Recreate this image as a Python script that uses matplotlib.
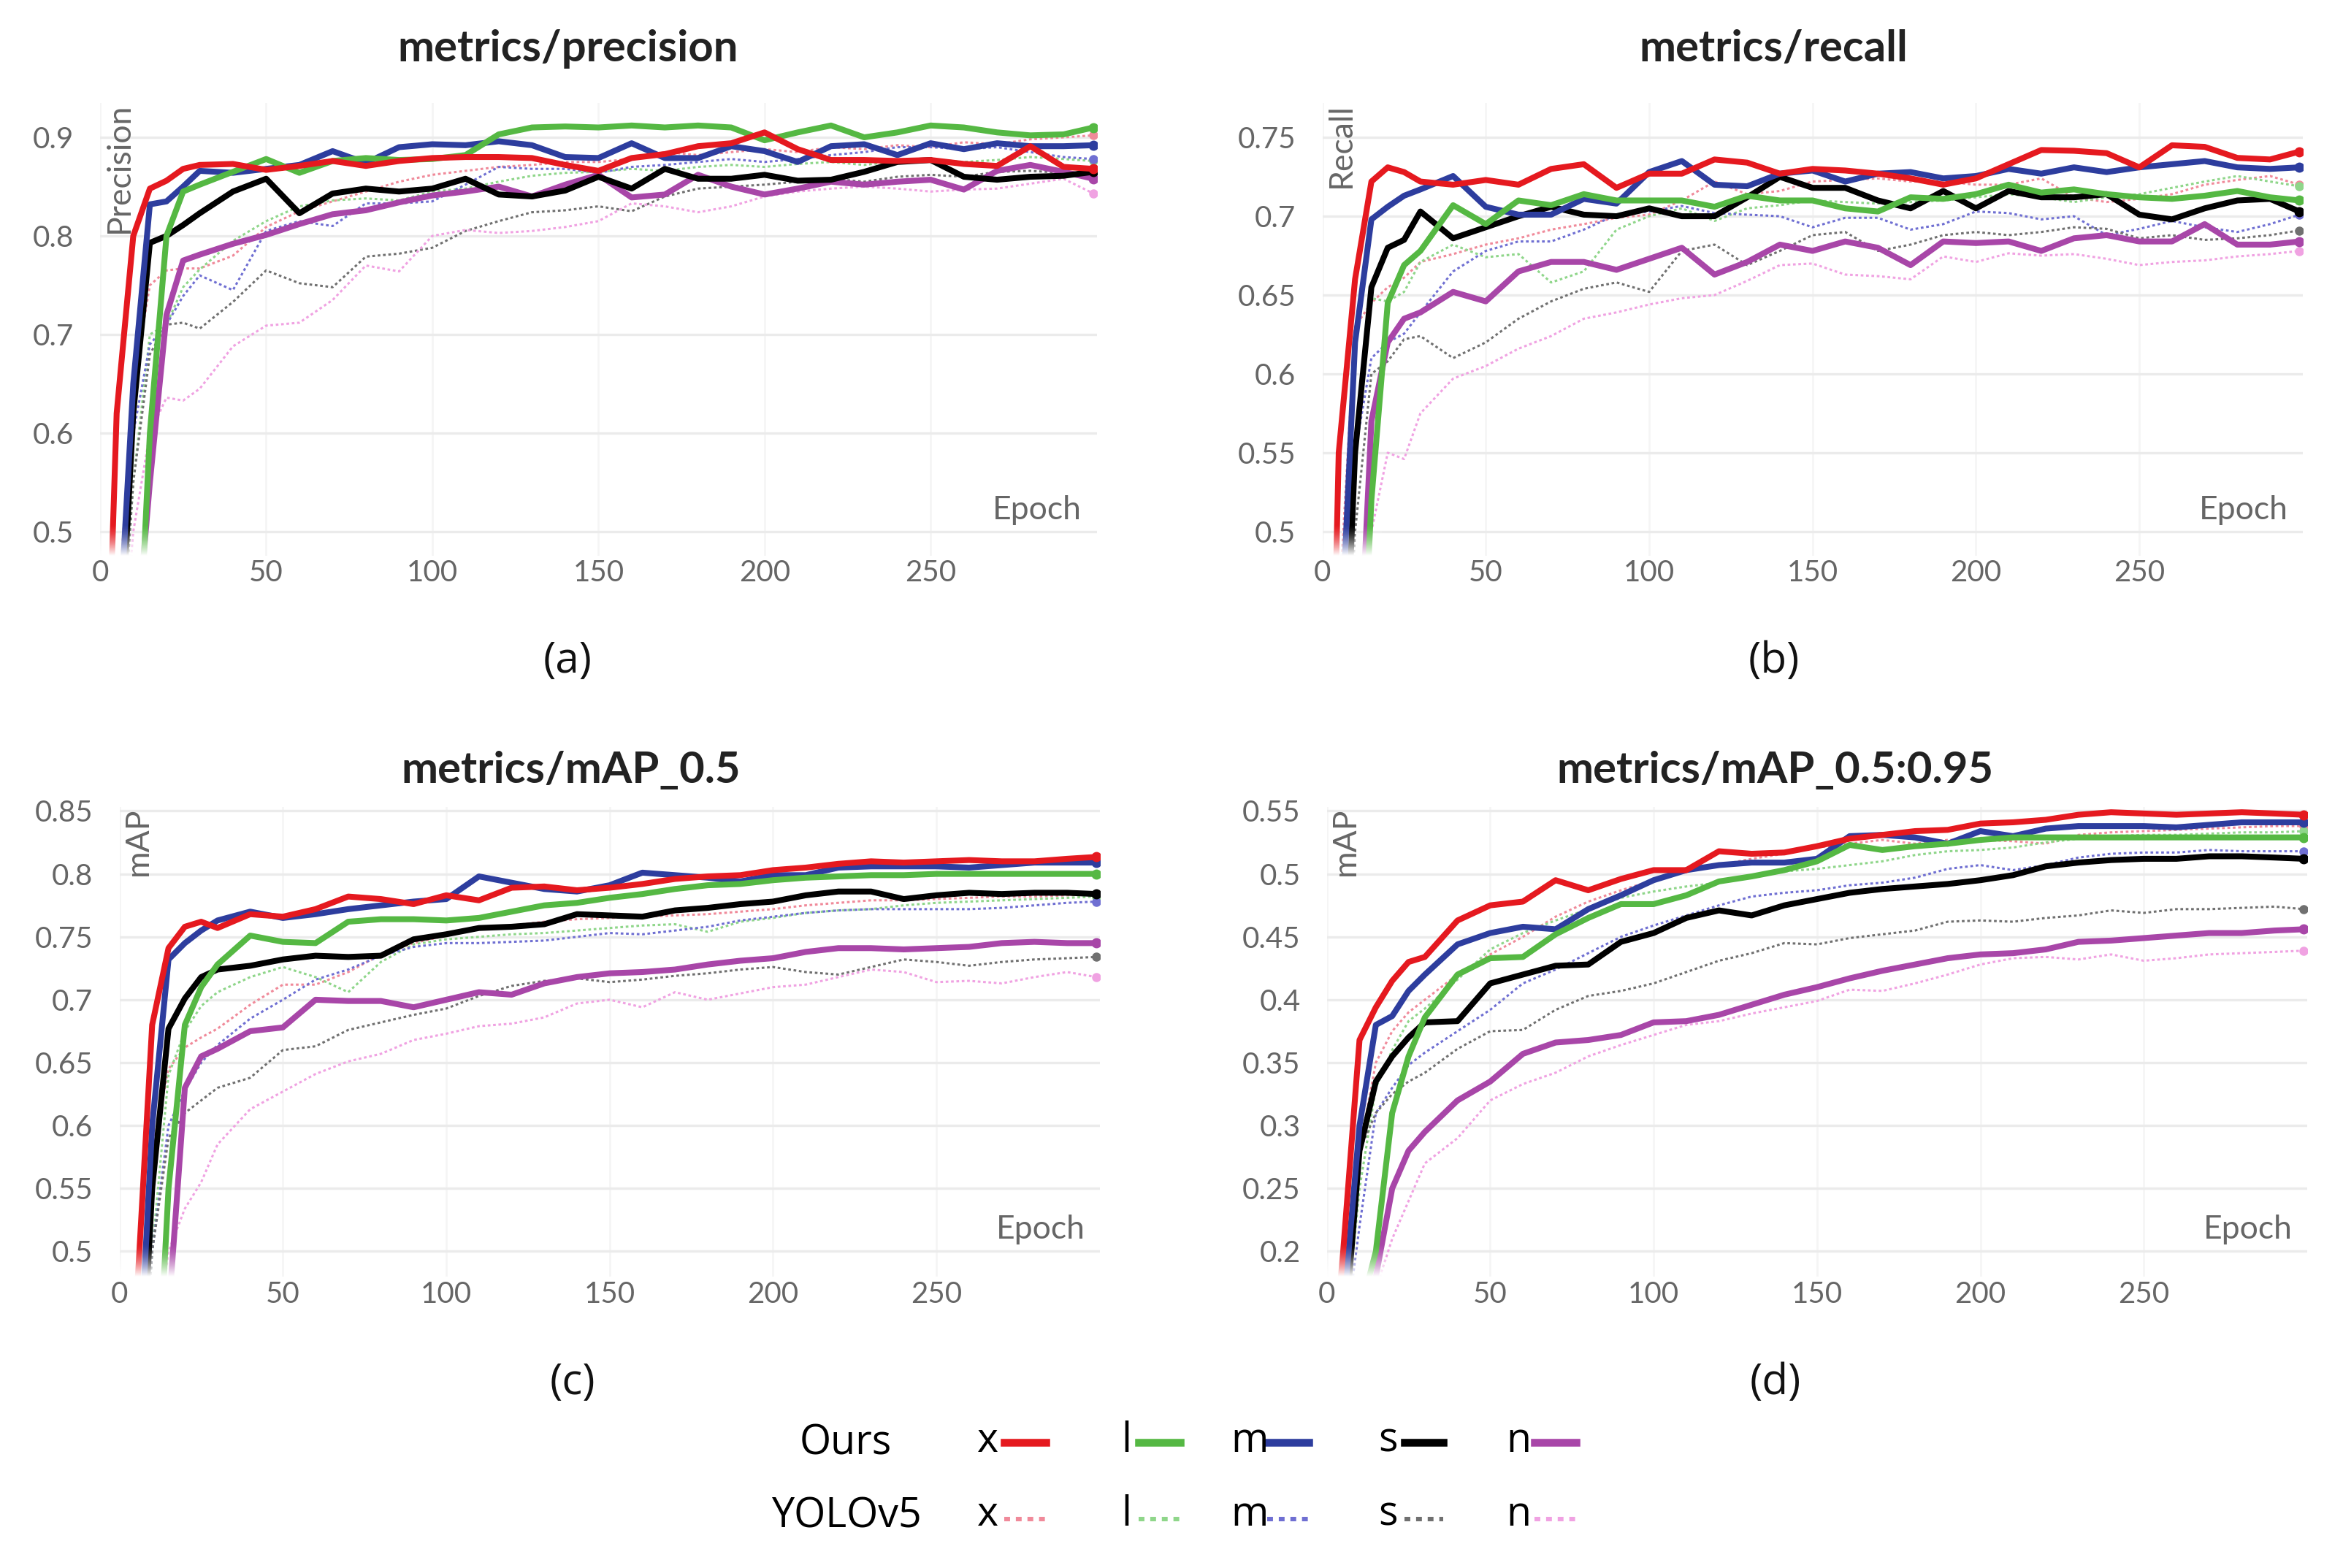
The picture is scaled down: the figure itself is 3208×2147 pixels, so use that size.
import numpy as np
import matplotlib.pyplot as plt
from matplotlib.lines import Line2D

plt.rcParams['font.family'] = ['Lato', 'DejaVu Sans']

epochs = [0, 5, 10, 15, 20, 25, 30, 40, 50, 60, 70, 80, 90, 100, 110, 120, 130, 140, 150,
          160, 170, 180, 190, 200, 210, 220, 230, 240, 250, 260, 270, 280, 290, 299]

# metrics/precision
prec_ours_x = [0.10, 0.62, 0.80, 0.848, 0.856, 0.868, 0.872, 0.873, 0.867, 0.871, 0.876, 0.871, 0.876, 0.879, 0.88, 0.88, 0.879, 0.872, 0.866,
               0.879, 0.883, 0.891, 0.894, 0.905, 0.888, 0.877, 0.877, 0.876, 0.877, 0.873, 0.871, 0.891, 0.870, 0.868]
prec_ours_l = [0.10, 0.15, 0.25, 0.60, 0.80, 0.845, 0.852, 0.865, 0.878, 0.864, 0.876, 0.879, 0.877, 0.878, 0.882, 0.903, 0.910, 0.911, 0.910,
               0.912, 0.910, 0.912, 0.910, 0.897, 0.905, 0.912, 0.900, 0.905, 0.912, 0.910, 0.905, 0.902, 0.903, 0.910]
prec_ours_m = [0.10, 0.35, 0.65, 0.832, 0.835, 0.850, 0.866, 0.864, 0.868, 0.872, 0.886, 0.874, 0.890, 0.893, 0.892, 0.896, 0.892, 0.880, 0.879,
               0.894, 0.879, 0.879, 0.891, 0.886, 0.875, 0.891, 0.893, 0.882, 0.894, 0.888, 0.894, 0.891, 0.891, 0.892]
prec_ours_s = [0.10, 0.30, 0.62, 0.793, 0.800, 0.811, 0.823, 0.845, 0.858, 0.823, 0.843, 0.848, 0.845, 0.848, 0.858, 0.842, 0.840, 0.846, 0.860,
               0.848, 0.868, 0.858, 0.858, 0.862, 0.856, 0.857, 0.865, 0.875, 0.877, 0.860, 0.857, 0.860, 0.861, 0.865]
prec_ours_n = [0.10, 0.20, 0.35, 0.55, 0.72, 0.775, 0.781, 0.792, 0.801, 0.812, 0.822, 0.826, 0.834, 0.841, 0.845, 0.850, 0.840, 0.852, 0.862,
               0.839, 0.842, 0.862, 0.850, 0.842, 0.848, 0.855, 0.852, 0.855, 0.857, 0.847, 0.866, 0.872, 0.865, 0.858]
prec_yolo_x = [0.10, 0.40, 0.65, 0.75, 0.765, 0.767, 0.767, 0.780, 0.809, 0.825, 0.835, 0.845, 0.855, 0.862, 0.866, 0.870, 0.872, 0.875, 0.875,
               0.878, 0.885, 0.882, 0.885, 0.888, 0.885, 0.890, 0.888, 0.892, 0.890, 0.895, 0.893, 0.898, 0.900, 0.902]
prec_yolo_l = [0.10, 0.30, 0.55, 0.70, 0.71, 0.748, 0.766, 0.795, 0.815, 0.830, 0.836, 0.838, 0.836, 0.845, 0.848, 0.855, 0.861, 0.864, 0.865,
               0.868, 0.866, 0.870, 0.872, 0.870, 0.873, 0.875, 0.872, 0.876, 0.878, 0.875, 0.877, 0.880, 0.878, 0.876]
prec_yolo_m = [0.10, 0.35, 0.60, 0.69, 0.71, 0.739, 0.760, 0.745, 0.805, 0.815, 0.810, 0.833, 0.833, 0.835, 0.852, 0.870, 0.868, 0.868, 0.864,
               0.870, 0.872, 0.875, 0.878, 0.875, 0.878, 0.882, 0.885, 0.890, 0.890, 0.888, 0.890, 0.885, 0.880, 0.878]
prec_yolo_s = [0.10, 0.30, 0.55, 0.68, 0.71, 0.712, 0.706, 0.733, 0.765, 0.752, 0.748, 0.779, 0.782, 0.788, 0.805, 0.815, 0.824, 0.826, 0.830,
               0.825, 0.840, 0.848, 0.850, 0.852, 0.855, 0.858, 0.855, 0.860, 0.862, 0.860, 0.865, 0.866, 0.864, 0.865]
prec_yolo_n = [0.10, 0.30, 0.50, 0.60, 0.636, 0.633, 0.645, 0.688, 0.709, 0.712, 0.735, 0.770, 0.764, 0.800, 0.806, 0.803, 0.805, 0.809, 0.815,
               0.833, 0.830, 0.824, 0.830, 0.840, 0.845, 0.848, 0.850, 0.848, 0.845, 0.847, 0.848, 0.853, 0.858, 0.843]

# metrics/recall
rec_ours_x = [0.10, 0.55, 0.66, 0.722, 0.731, 0.728, 0.722, 0.720, 0.723, 0.720, 0.730, 0.733, 0.718, 0.727, 0.727, 0.736, 0.734, 0.727, 0.730,
              0.729, 0.727, 0.724, 0.720, 0.724, 0.733, 0.742, 0.7415, 0.740, 0.731, 0.745, 0.744, 0.737, 0.736, 0.741]
rec_ours_l = [0.10, 0.15, 0.30, 0.52, 0.645, 0.669, 0.678, 0.707, 0.695, 0.710, 0.707, 0.714, 0.710, 0.710, 0.710, 0.706, 0.713, 0.710, 0.710,
              0.705, 0.703, 0.712, 0.711, 0.714, 0.720, 0.715, 0.717, 0.714, 0.712, 0.711, 0.713, 0.716, 0.712, 0.710]
rec_ours_m = [0.10, 0.40, 0.62, 0.698, 0.706, 0.713, 0.717, 0.7255, 0.706, 0.701, 0.701, 0.711, 0.708, 0.728, 0.735, 0.720, 0.719, 0.727, 0.729,
              0.722, 0.727, 0.728, 0.724, 0.7255, 0.730, 0.727, 0.731, 0.728, 0.731, 0.733, 0.735, 0.731, 0.730, 0.731]
rec_ours_s = [0.10, 0.30, 0.55, 0.655, 0.680, 0.685, 0.703, 0.686, 0.693, 0.700, 0.706, 0.701, 0.700, 0.705, 0.700, 0.700, 0.712, 0.725, 0.718,
              0.718, 0.710, 0.705, 0.716, 0.705, 0.716, 0.712, 0.712, 0.714, 0.701, 0.698, 0.705, 0.710, 0.711, 0.703]
rec_ours_n = [0.10, 0.20, 0.35, 0.57, 0.62, 0.635, 0.639, 0.652, 0.646, 0.665, 0.671, 0.671, 0.666, 0.673, 0.680, 0.663, 0.671, 0.682, 0.678,
              0.684, 0.680, 0.669, 0.684, 0.683, 0.684, 0.678, 0.686, 0.688, 0.684, 0.684, 0.695, 0.682, 0.682, 0.684]
rec_yolo_x = [0.10, 0.45, 0.63, 0.645, 0.655, 0.661, 0.671, 0.676, 0.682, 0.686, 0.6915, 0.695, 0.699, 0.701, 0.710, 0.722, 0.714, 0.716, 0.722,
              0.723, 0.724, 0.722, 0.722, 0.720, 0.720, 0.724, 0.712, 0.709, 0.711, 0.714, 0.720, 0.723, 0.7255, 0.720]
rec_yolo_l = [0.10, 0.30, 0.55, 0.648, 0.646, 0.652, 0.671, 0.682, 0.674, 0.676, 0.658, 0.665, 0.6915, 0.700, 0.705, 0.697, 0.705, 0.707, 0.710,
              0.709, 0.708, 0.709, 0.710, 0.712, 0.714, 0.712, 0.709, 0.712, 0.714, 0.718, 0.722, 0.7255, 0.722, 0.719]
rec_yolo_m = [0.10, 0.35, 0.55, 0.61, 0.62, 0.6255, 0.639, 0.665, 0.678, 0.684, 0.684, 0.6915, 0.701, 0.703, 0.7065, 0.702, 0.701, 0.700, 0.693,
              0.699, 0.699, 0.6915, 0.695, 0.703, 0.702, 0.698, 0.700, 0.688, 0.692, 0.697, 0.693, 0.690, 0.695, 0.701]
rec_yolo_s = [0.10, 0.30, 0.50, 0.60, 0.608, 0.622, 0.624, 0.610, 0.620, 0.635, 0.646, 0.654, 0.658, 0.652, 0.678, 0.682, 0.669, 0.678, 0.688,
              0.690, 0.678, 0.682, 0.688, 0.690, 0.688, 0.690, 0.693, 0.692, 0.686, 0.688, 0.685, 0.686, 0.688, 0.691]
rec_yolo_n = [0.10, 0.20, 0.35, 0.50, 0.55, 0.546, 0.575, 0.597, 0.605, 0.616, 0.624, 0.635, 0.639, 0.644, 0.648, 0.650, 0.659, 0.669, 0.670,
              0.663, 0.662, 0.660, 0.6745, 0.671, 0.6765, 0.675, 0.676, 0.673, 0.669, 0.671, 0.672, 0.6745, 0.676, 0.678]

# metrics/mAP_0.5
map50_ours_x = [0.10, 0.45, 0.68, 0.741, 0.758, 0.762, 0.757, 0.768, 0.766, 0.772, 0.782, 0.780, 0.776, 0.783, 0.779, 0.789, 0.790, 0.787, 0.789,
                0.792, 0.796, 0.798, 0.799, 0.803, 0.805, 0.808, 0.810, 0.809, 0.810, 0.811, 0.810, 0.810, 0.812, 0.8135]
map50_ours_l = [0.10, 0.15, 0.30, 0.55, 0.68, 0.710, 0.728, 0.751, 0.746, 0.745, 0.762, 0.764, 0.764, 0.763, 0.765, 0.770, 0.775, 0.777, 0.781,
                0.784, 0.788, 0.791, 0.792, 0.795, 0.797, 0.798, 0.799, 0.799, 0.800, 0.800, 0.800, 0.800, 0.800, 0.800]
map50_ours_m = [0.10, 0.35, 0.60, 0.732, 0.745, 0.755, 0.763, 0.770, 0.765, 0.768, 0.772, 0.775, 0.778, 0.780, 0.798, 0.793, 0.788, 0.786, 0.791,
                0.801, 0.799, 0.797, 0.794, 0.799, 0.799, 0.805, 0.806, 0.806, 0.806, 0.805, 0.807, 0.809, 0.809, 0.809]
map50_ours_s = [0.10, 0.30, 0.55, 0.677, 0.701, 0.718, 0.724, 0.727, 0.732, 0.735, 0.734, 0.735, 0.748, 0.752, 0.757, 0.758, 0.760, 0.768, 0.767,
                0.766, 0.771, 0.773, 0.776, 0.778, 0.783, 0.786, 0.786, 0.780, 0.783, 0.785, 0.784, 0.785, 0.785, 0.784]
map50_ours_n = [0.10, 0.20, 0.30, 0.45, 0.63, 0.655, 0.661, 0.675, 0.678, 0.700, 0.699, 0.699, 0.694, 0.700, 0.706, 0.704, 0.713, 0.718, 0.721,
                0.722, 0.724, 0.728, 0.731, 0.733, 0.738, 0.741, 0.741, 0.740, 0.741, 0.742, 0.745, 0.746, 0.745, 0.745]
map50_yolo_x = [0.10, 0.40, 0.58, 0.645, 0.662, 0.670, 0.677, 0.696, 0.712, 0.712, 0.722, 0.736, 0.745, 0.751, 0.756, 0.759, 0.762, 0.764, 0.765,
                0.766, 0.767, 0.768, 0.770, 0.772, 0.775, 0.777, 0.779, 0.779, 0.780, 0.781, 0.782, 0.782, 0.783, 0.783]
map50_yolo_l = [0.10, 0.30, 0.50, 0.64, 0.675, 0.695, 0.706, 0.718, 0.726, 0.718, 0.706, 0.730, 0.744, 0.748, 0.750, 0.752, 0.753, 0.755, 0.757,
                0.759, 0.760, 0.754, 0.762, 0.765, 0.769, 0.771, 0.772, 0.775, 0.777, 0.778, 0.779, 0.780, 0.781, 0.782]
map50_yolo_m = [0.10, 0.30, 0.50, 0.60, 0.628, 0.650, 0.664, 0.685, 0.700, 0.716, 0.724, 0.735, 0.742, 0.745, 0.745, 0.746, 0.747, 0.750, 0.753,
                0.752, 0.755, 0.758, 0.763, 0.766, 0.769, 0.771, 0.772, 0.772, 0.772, 0.772, 0.773, 0.775, 0.777, 0.778]
map50_yolo_s = [0.10, 0.30, 0.50, 0.59, 0.61, 0.62, 0.63, 0.638, 0.660, 0.663, 0.676, 0.682, 0.688, 0.693, 0.703, 0.711, 0.715, 0.717, 0.714,
                0.716, 0.719, 0.721, 0.724, 0.726, 0.722, 0.720, 0.726, 0.732, 0.730, 0.727, 0.730, 0.732, 0.733, 0.734]
map50_yolo_n = [0.10, 0.25, 0.40, 0.50, 0.534, 0.555, 0.585, 0.613, 0.627, 0.641, 0.651, 0.657, 0.668, 0.673, 0.679, 0.681, 0.686, 0.697, 0.700,
                0.694, 0.706, 0.700, 0.705, 0.710, 0.712, 0.718, 0.724, 0.722, 0.714, 0.715, 0.713, 0.718, 0.722, 0.718]

# metrics/mAP_0.5:0.95
map95_ours_x = [0.05, 0.20, 0.368, 0.394, 0.415, 0.430, 0.434, 0.463, 0.475, 0.478, 0.495, 0.487, 0.496, 0.503, 0.503, 0.518, 0.516, 0.517, 0.522,
                0.528, 0.531, 0.534, 0.535, 0.540, 0.541, 0.543, 0.547, 0.549, 0.548, 0.547, 0.548, 0.549, 0.548, 0.547]
map95_ours_l = [0.05, 0.10, 0.15, 0.20, 0.31, 0.355, 0.386, 0.420, 0.433, 0.434, 0.452, 0.465, 0.476, 0.476, 0.483, 0.494, 0.498, 0.503, 0.510,
                0.523, 0.519, 0.522, 0.524, 0.527, 0.529, 0.529, 0.529, 0.529, 0.529, 0.529, 0.529, 0.529, 0.529, 0.529]
map95_ours_m = [0.05, 0.15, 0.30, 0.38, 0.387, 0.407, 0.420, 0.444, 0.453, 0.458, 0.456, 0.472, 0.483, 0.495, 0.503, 0.507, 0.509, 0.509, 0.512,
                0.530, 0.531, 0.529, 0.524, 0.534, 0.530, 0.536, 0.538, 0.538, 0.538, 0.537, 0.539, 0.541, 0.541, 0.541]
map95_ours_s = [0.05, 0.12, 0.28, 0.335, 0.355, 0.370, 0.382, 0.383, 0.413, 0.420, 0.427, 0.428, 0.446, 0.453, 0.465, 0.471, 0.467, 0.475, 0.480,
                0.485, 0.488, 0.490, 0.492, 0.495, 0.499, 0.506, 0.509, 0.511, 0.512, 0.512, 0.514, 0.514, 0.513, 0.512]
map95_ours_n = [0.05, 0.08, 0.12, 0.18, 0.25, 0.280, 0.295, 0.320, 0.335, 0.357, 0.366, 0.368, 0.372, 0.382, 0.383, 0.388, 0.396, 0.404, 0.410,
                0.417, 0.423, 0.428, 0.433, 0.436, 0.437, 0.440, 0.446, 0.447, 0.449, 0.451, 0.453, 0.453, 0.455, 0.456]
map95_yolo_x = [0.05, 0.15, 0.28, 0.35, 0.375, 0.390, 0.400, 0.420, 0.436, 0.450, 0.466, 0.478, 0.487, 0.495, 0.503, 0.507, 0.512, 0.516, 0.521,
                0.524, 0.527, 0.524, 0.527, 0.527, 0.526, 0.524, 0.531, 0.533, 0.534, 0.535, 0.536, 0.537, 0.538, 0.538]
map95_yolo_l = [0.05, 0.12, 0.25, 0.33, 0.36, 0.383, 0.393, 0.416, 0.440, 0.453, 0.463, 0.472, 0.481, 0.486, 0.490, 0.493, 0.497, 0.502, 0.504,
                0.507, 0.510, 0.515, 0.518, 0.519, 0.521, 0.525, 0.528, 0.530, 0.531, 0.531, 0.532, 0.533, 0.533, 0.534]
map95_yolo_m = [0.05, 0.12, 0.22, 0.31, 0.33, 0.348, 0.358, 0.375, 0.392, 0.413, 0.424, 0.437, 0.450, 0.459, 0.467, 0.475, 0.482, 0.485, 0.487,
                0.491, 0.493, 0.497, 0.504, 0.507, 0.503, 0.507, 0.513, 0.516, 0.517, 0.517, 0.519, 0.518, 0.518, 0.518]
map95_yolo_s = [0.05, 0.15, 0.28, 0.31, 0.325, 0.335, 0.342, 0.361, 0.375, 0.376, 0.392, 0.403, 0.407, 0.413, 0.422, 0.431, 0.437, 0.445, 0.444,
                0.449, 0.452, 0.455, 0.462, 0.463, 0.462, 0.465, 0.467, 0.471, 0.469, 0.472, 0.472, 0.473, 0.474, 0.472]
map95_yolo_n = [0.05, 0.08, 0.12, 0.17, 0.21, 0.240, 0.270, 0.290, 0.320, 0.333, 0.342, 0.355, 0.364, 0.372, 0.380, 0.383, 0.389, 0.394, 0.399,
                0.408, 0.407, 0.413, 0.420, 0.428, 0.433, 0.434, 0.432, 0.436, 0.431, 0.433, 0.436, 0.437, 0.438, 0.439]

sizes = ['x', 'l', 'm', 's', 'n']
ours_colors = ['#e5191f', '#55b843', '#2d3d9e', '#000000', '#a846a8']
yolo_colors = ['#f08a9a', '#8fd68a', '#6f6fd2', '#707070', '#f0a2e2']

panels = [
    dict(title='metrics/precision', ylabel='Precision', tag='(a)',
         ours=[prec_ours_x, prec_ours_l, prec_ours_m, prec_ours_s, prec_ours_n],
         yolo=[prec_yolo_x, prec_yolo_l, prec_yolo_m, prec_yolo_s, prec_yolo_n],
         yticks=[0.5, 0.6, 0.7, 0.8, 0.9], ylim=(0.4758, 0.9348),
         rect=[0.0427, 0.6457, 0.4254, 0.2886], title_xy=(0.2423, 0.9686), tag_xy=(0.2423, 0.578)),
    dict(title='metrics/recall', ylabel='Recall', tag='(b)',
         ours=[rec_ours_x, rec_ours_l, rec_ours_m, rec_ours_s, rec_ours_n],
         yolo=[rec_yolo_x, rec_yolo_l, rec_yolo_m, rec_yolo_s, rec_yolo_n],
         yticks=[0.5, 0.55, 0.6, 0.65, 0.7, 0.75], ylim=(0.4848, 0.7718),
         rect=[0.5644, 0.6457, 0.4184, 0.2886], title_xy=(0.757, 0.9686), tag_xy=(0.757, 0.578)),
    dict(title='metrics/mAP_0.5', ylabel='mAP', tag='(c)',
         ours=[map50_ours_x, map50_ours_l, map50_ours_m, map50_ours_s, map50_ours_n],
         yolo=[map50_yolo_x, map50_yolo_l, map50_yolo_m, map50_yolo_s, map50_yolo_n],
         yticks=[0.5, 0.55, 0.6, 0.65, 0.7, 0.75, 0.8, 0.85], ylim=(0.4798, 0.853),
         rect=[0.051, 0.1857, 0.4184, 0.2995], title_xy=(0.2436, 0.5086), tag_xy=(0.2443, 0.118)),
    dict(title='metrics/mAP_0.5:0.95', ylabel='mAP', tag='(d)',
         ours=[map95_ours_x, map95_ours_l, map95_ours_m, map95_ours_s, map95_ours_n],
         yolo=[map95_yolo_x, map95_yolo_l, map95_yolo_m, map95_yolo_s, map95_yolo_n],
         yticks=[0.2, 0.25, 0.3, 0.35, 0.4, 0.45, 0.5, 0.55], ylim=(0.1798, 0.553),
         rect=[0.5663, 0.1857, 0.4184, 0.2995], title_xy=(0.7577, 0.5086), tag_xy=(0.7577, 0.118)),
]

# white fade at the bottom of each plot area (lines dissolve into the axis)
fade = np.ones((64, 2, 4))
fade[:, :, 3] = np.linspace(0, 1, 64)[:, None] ** 1.5

fig = plt.figure(figsize=(16.04, 10.735), dpi=200)

for p in panels:
    ax = fig.add_axes(p['rect'])
    for vals, c in zip(p['yolo'], yolo_colors):
        ax.plot(epochs, vals, color=c, lw=1.1, ls=(0, (1.2, 1.2)), marker='o', markevery=[-1], ms=3.5, zorder=2)
    for vals, c in zip(p['ours'][::-1], ours_colors[::-1]):
        ax.plot(epochs, vals, color=c, lw=2.9, solid_capstyle='round', marker='o', markevery=[-1], ms=4, zorder=3)
    ax.imshow(fade, extent=[0, 0.06, 0, 0.07], transform=ax.transAxes, aspect='auto', zorder=4)
    ax.set_xlim(0, 300)
    ax.set_ylim(*p['ylim'])
    ax.set_xticks([0, 50, 100, 150, 200, 250])
    ax.set_yticks(p['yticks'])
    ax.set_yticklabels(['%g' % t for t in p['yticks']])
    ax.tick_params(length=0, labelsize=14.5, labelcolor='#666666')
    ax.tick_params(axis='y', pad=13)
    ax.tick_params(axis='x', pad=2)
    for s in ax.spines.values():
        s.set_visible(False)
    ax.grid(axis='y', color='#ebebeb', lw=1.2)
    ax.grid(axis='x', color='#f5f5f5', lw=1.0)
    ax.set_axisbelow(True)
    ax.text(0.985, 0.10, 'Epoch', transform=ax.transAxes, ha='right', va='center',
            fontsize=16, color='#666666')
    ax.text(0.019, 1.0, p['ylabel'], transform=ax.transAxes, ha='center', va='top',
            rotation=90, fontsize=16, color='#666666')
    fig.text(p['title_xy'][0], p['title_xy'][1], p['title'], ha='center', va='center',
             fontsize=21.5, fontweight='bold', color='#222222')
    fig.text(p['tag_xy'][0], p['tag_xy'][1], p['tag'], ha='center', va='center',
             fontsize=21, color='#111111', family=['Open Sans', 'DejaVu Sans'])

# legend
fig.text(0.361, 0.079, 'Ours', ha='center', va='center', fontsize=20, family=['Open Sans', 'DejaVu Sans'])
fig.text(0.3616, 0.0324, 'YOLOv5', ha='center', va='center', fontsize=20, family=['Open Sans', 'DejaVu Sans'])
letter_x = [0.4216, 0.4809, 0.5332, 0.5925, 0.648]
line_x = [(0.4286, 0.4464), (0.486, 0.5038), (0.5408, 0.5587), (0.5995, 0.6161), (0.655, 0.6728)]
for name, lx, (x0, x1), c1, c2 in zip(sizes, letter_x, line_x, ours_colors, yolo_colors):
    fig.text(lx, 0.081, name, ha='center', va='center', fontsize=20, family=['Open Sans', 'DejaVu Sans'])
    fig.text(lx, 0.034, name, ha='center', va='center', fontsize=20, family=['Open Sans', 'DejaVu Sans'])
    fig.add_artist(Line2D([x0, x1], [0.080, 0.080], color=c1, lw=3.8, transform=fig.transFigure))
    fig.add_artist(Line2D([x0, x1], [0.0314, 0.0314], color=c2, lw=2.2, ls=(0, (1.3, 1.3)),
                          transform=fig.transFigure))

fig.savefig('out.png', dpi=200, facecolor='white')
